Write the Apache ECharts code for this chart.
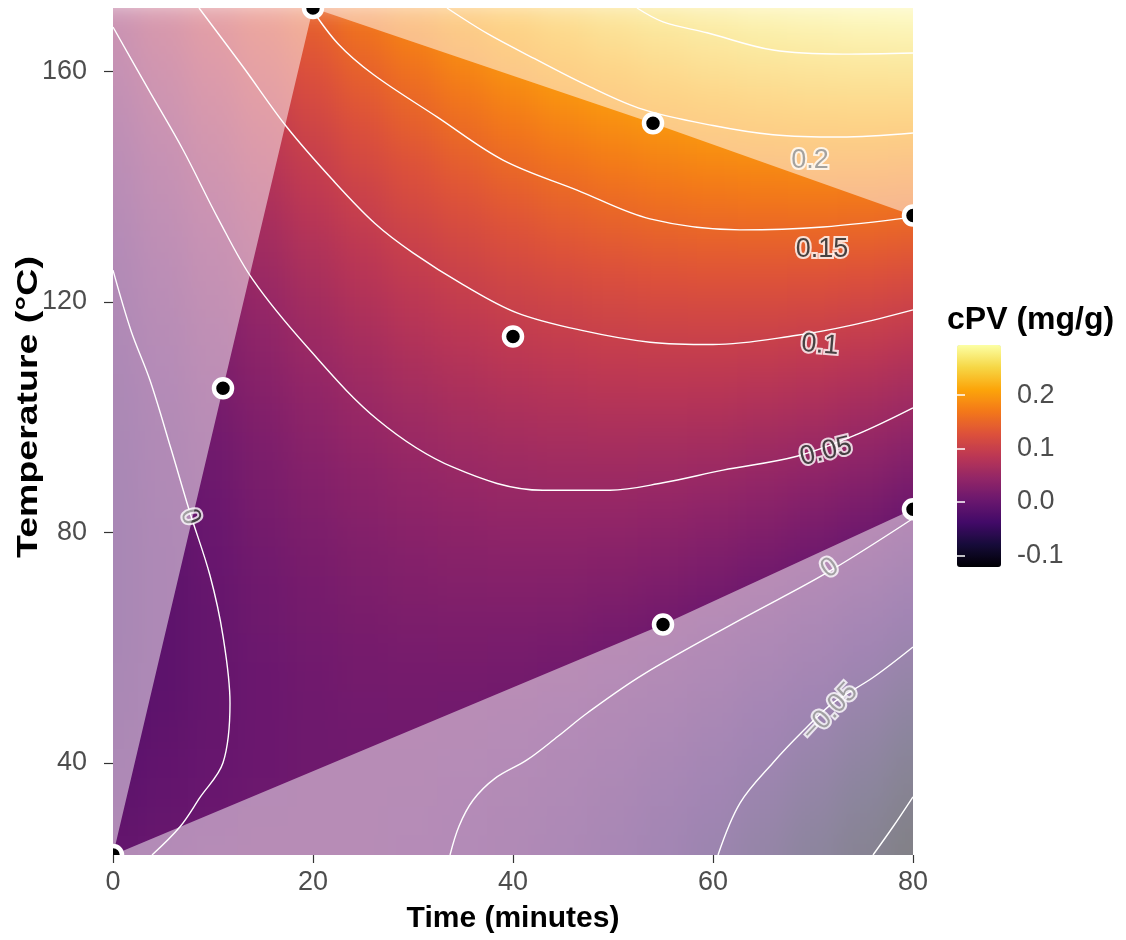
<!DOCTYPE html>
<html>
<head>
<meta charset="utf-8">
<script src="https://cdn.jsdelivr.net/npm/echarts@6/dist/echarts.min.js"></script>
<style>
html,body{margin:0;padding:0;background:#ffffff;}
#chart{width:1126px;height:940px;position:relative;}
#chart canvas[data-zr-dom-id="zr_0"]{filter:blur(14px);}
</style>
</head>
<body>
<div id="chart"></div>
<script>
// ---------- DATA ----------
// grid of estimated cPV values (mg/g); rows = temperature, columns = time
const timeGrid = [0, 5, 10, 15, 20, 25, 30, 35, 40, 45, 50, 55, 60, 65, 70, 75, 80];
const tempGrid = [25, 30, 35, 40, 45, 50, 55, 60, 65, 70, 75, 80, 85, 90, 95, 100, 105, 110, 115, 120, 125, 130, 135, 140, 145, 150, 155, 160, 165, 170];
const cpvGrid = [
  [-0.004, 0.001, 0.005, 0.008, 0.008, 0.007, 0.004, 0.000, -0.006, -0.014, -0.023, -0.034, -0.047, -0.061, -0.077, -0.094, -0.114],
  [-0.008, -0.002, 0.003, 0.006, 0.007, 0.007, 0.005, 0.001, -0.004, -0.011, -0.019, -0.030, -0.042, -0.055, -0.070, -0.087, -0.106],
  [-0.011, -0.004, 0.001, 0.005, 0.007, 0.007, 0.006, 0.003, -0.001, -0.008, -0.015, -0.025, -0.036, -0.049, -0.063, -0.079, -0.097],
  [-0.014, -0.006, 0.000, 0.004, 0.007, 0.008, 0.008, 0.005, 0.002, -0.004, -0.011, -0.020, -0.030, -0.042, -0.056, -0.071, -0.088],
  [-0.017, -0.008, -0.001, 0.004, 0.007, 0.009, 0.009, 0.008, 0.005, 0.000, -0.006, -0.014, -0.024, -0.035, -0.048, -0.063, -0.079],
  [-0.019, -0.010, -0.002, 0.004, 0.008, 0.011, 0.012, 0.011, 0.009, 0.005, -0.001, -0.008, -0.017, -0.028, -0.040, -0.054, -0.069],
  [-0.020, -0.011, -0.002, 0.004, 0.009, 0.013, 0.014, 0.014, 0.013, 0.010, 0.005, -0.002, -0.010, -0.020, -0.031, -0.045, -0.059],
  [-0.022, -0.011, -0.002, 0.005, 0.011, 0.015, 0.017, 0.018, 0.017, 0.015, 0.011, 0.005, -0.003, -0.012, -0.022, -0.035, -0.049],
  [-0.023, -0.011, -0.002, 0.007, 0.013, 0.018, 0.021, 0.022, 0.022, 0.021, 0.017, 0.012, 0.005, -0.003, -0.013, -0.025, -0.038],
  [-0.023, -0.011, -0.001, 0.008, 0.015, 0.021, 0.025, 0.027, 0.028, 0.027, 0.024, 0.020, 0.014, 0.006, -0.003, -0.014, -0.027],
  [-0.023, -0.011, 0.001, 0.010, 0.018, 0.024, 0.029, 0.032, 0.033, 0.033, 0.031, 0.028, 0.022, 0.015, 0.007, -0.003, -0.015],
  [-0.023, -0.010, 0.002, 0.013, 0.021, 0.028, 0.034, 0.037, 0.040, 0.040, 0.039, 0.036, 0.031, 0.025, 0.017, 0.008, -0.003],
  [-0.023, -0.008, 0.004, 0.016, 0.025, 0.033, 0.039, 0.043, 0.046, 0.047, 0.047, 0.045, 0.041, 0.035, 0.028, 0.020, 0.009],
  [-0.022, -0.006, 0.007, 0.019, 0.029, 0.037, 0.044, 0.049, 0.053, 0.055, 0.055, 0.054, 0.051, 0.046, 0.040, 0.032, 0.022],
  [-0.020, -0.004, 0.010, 0.022, 0.033, 0.043, 0.050, 0.056, 0.060, 0.063, 0.064, 0.063, 0.061, 0.057, 0.051, 0.044, 0.035],
  [-0.018, -0.002, 0.013, 0.026, 0.038, 0.048, 0.056, 0.063, 0.068, 0.071, 0.073, 0.073, 0.072, 0.068, 0.064, 0.057, 0.049],
  [-0.016, 0.001, 0.017, 0.031, 0.043, 0.054, 0.063, 0.070, 0.076, 0.080, 0.083, 0.084, 0.083, 0.080, 0.076, 0.070, 0.063],
  [-0.013, 0.005, 0.021, 0.036, 0.049, 0.060, 0.070, 0.078, 0.085, 0.090, 0.093, 0.094, 0.094, 0.092, 0.089, 0.084, 0.077],
  [-0.010, 0.008, 0.025, 0.041, 0.055, 0.067, 0.078, 0.086, 0.094, 0.099, 0.103, 0.105, 0.106, 0.105, 0.102, 0.098, 0.092],
  [-0.007, 0.013, 0.030, 0.047, 0.061, 0.074, 0.085, 0.095, 0.103, 0.109, 0.114, 0.117, 0.118, 0.118, 0.116, 0.112, 0.107],
  [-0.003, 0.017, 0.036, 0.053, 0.068, 0.082, 0.094, 0.104, 0.113, 0.120, 0.125, 0.129, 0.131, 0.131, 0.130, 0.127, 0.123],
  [0.001, 0.022, 0.041, 0.059, 0.075, 0.089, 0.102, 0.113, 0.123, 0.131, 0.137, 0.141, 0.144, 0.145, 0.145, 0.143, 0.139],
  [0.006, 0.027, 0.047, 0.066, 0.083, 0.098, 0.111, 0.123, 0.133, 0.142, 0.149, 0.154, 0.157, 0.159, 0.160, 0.158, 0.155],
  [0.011, 0.033, 0.054, 0.073, 0.091, 0.106, 0.121, 0.133, 0.144, 0.153, 0.161, 0.167, 0.171, 0.174, 0.175, 0.174, 0.172],
  [0.016, 0.039, 0.061, 0.081, 0.099, 0.116, 0.130, 0.144, 0.155, 0.165, 0.174, 0.180, 0.186, 0.189, 0.191, 0.191, 0.189],
  [0.022, 0.046, 0.068, 0.089, 0.108, 0.125, 0.141, 0.155, 0.167, 0.178, 0.187, 0.194, 0.200, 0.204, 0.207, 0.208, 0.207],
  [0.028, 0.053, 0.076, 0.097, 0.117, 0.135, 0.151, 0.166, 0.179, 0.191, 0.200, 0.209, 0.215, 0.220, 0.223, 0.225, 0.225],
  [0.035, 0.060, 0.084, 0.106, 0.126, 0.145, 0.162, 0.178, 0.192, 0.204, 0.214, 0.223, 0.231, 0.236, 0.240, 0.242, 0.243],
  [0.042, 0.068, 0.092, 0.115, 0.136, 0.156, 0.174, 0.190, 0.205, 0.218, 0.229, 0.238, 0.246, 0.253, 0.257, 0.261, 0.262],
  [0.049, 0.076, 0.101, 0.125, 0.147, 0.167, 0.186, 0.203, 0.218, 0.232, 0.244, 0.254, 0.263, 0.270, 0.275, 0.279, 0.281]
];

// experimental design points (time, temperature)
const designTime = [0, 20, 54, 80, 40, 11, 80, 55];
const designTemp = [24, 171, 151, 135, 114, 105, 84, 64];

// contour lines: [time, temperature]
const contour_0_25 = [[52.4,171],[55,168.6],[59.4,166.7],[66,163.7],[73,163],[80,163.2]];
const contour_0_20 = [[33.4,171],[37.5,166.5],[42.4,162],[47.5,157.5],[53,153.4],[60,150.6],[66,149],[72.7,148.6],[80,149.3]];
const contour_0_15 = [[19.8,171],[22.5,164.8],[26,159.5],[32.4,152.1],[39,144.6],[46.4,139.4],[53.7,134.4],[62.7,132.5],[71,133],[80,134.7]];
const contour_0_10 = [[8.6,171],[13,160.8],[17.4,150.3],[22,141.1],[26.2,133.6],[30,128.5],[35,123],[40.4,118.1],[47,115],[53.7,113],[60,112.6],[68.4,114.2],[74,116],[80,118.6]];
const contour_0_05 = [[0,167.7],[3.5,157],[7,146.4],[10.5,134.5],[14,123.8],[19.4,112.2],[26.5,99.5],[34,91.3],[43,87.3],[49.7,87.3],[55,88.6],[61,90.8],[68.4,93.2],[74.4,97],[80,101.6]];
const contour_0_left = [[0,125.5],[1.8,115],[3.7,106.4],[5.8,94.5],[7.7,83.4],[9.7,72.5],[11,62],[11.7,50.4],[11,40],[8.7,34],[6.7,28.9],[3.9,24]];
const contour_0_right = [[33.7,24],[34.6,29],[36,33.5],[38.2,37.3],[41.4,40.5],[44.5,44.6],[47.4,48.6],[53,55.3],[62.7,64.8],[71.4,73],[80,82.4]];
const contour_m0_05 = [[60.5,24],[62.7,33],[66,40],[69,45.5],[72,50.4],[76,54.8],[80,60.1]];
const contour_m0_10 = [[76,24],[78,28.9],[80,34.1]];

// contour labels
const labelText  = ['0.2', '0.15', '0.1', '0.05', '0', '\u22120.05', '0'];
const labelTime  = [69.7, 70.9, 70.7, 71.3, 71.7, 71.7, 7.7];
const labelTemp  = [144.6, 129, 112.5, 94.0, 73.8, 48.8, 82.7];
const labelAngle = [0, 0, -5, 14, 35, 47, -73];

// axis / legend ticks
const timeTicks = [0, 20, 40, 60, 80];
const tempTicks = [40, 80, 120, 160];
const legendTicks = [-0.1, 0, 0.1, 0.2];
const timeRange = [0, 80];
const tempRange = [24, 171];
const cpvRange = [-0.122, 0.294];

const inferno = ['#000004','#160b39','#420a68','#6a176e','#932667','#bc3754','#dd513a','#f37819','#fca50a','#f6d746','#fcffa4'];

// ---------- BUILD ----------
const FONT = "'Liberation Sans', Arial, sans-serif";
const PLOT = {left: 113, top: 8, width: 800, height: 847};
const heatData = [];
for (let i = 0; i < tempGrid.length; i++) {
  for (let j = 0; j < timeGrid.length; j++) {
    heatData.push([timeGrid[j], tempGrid[i], cpvGrid[i][j]]);
  }
}
const halfT = (timeGrid[1] - timeGrid[0]) / 2;
const halfY = (tempGrid[1] - tempGrid[0]) / 2;
const EDGE = 70; // edge cells are continued past the panel (hidden by the frame)

const P = i => [designTime[i], designTemp[i]];
const washPieces = [
  [[timeRange[0], tempRange[1]], P(1), P(5), P(0)],
  [[timeRange[1], tempRange[1]], P(3), P(2), P(1)],
  [[timeRange[1], tempRange[0]], P(0), P(7), P(6)]
];

const contours = [contour_0_25, contour_0_20, contour_0_15, contour_0_10, contour_0_05,
                  contour_0_left, contour_0_right, contour_m0_05, contour_m0_10];

const series = [];
series.push({
  type: 'custom', name: 'surface', data: heatData, encode: {x: 0, y: 1}, clip: false, z: 1, zlevel: 0,
  silent: true, animation: false,
  renderItem: function (params, api) {
    const t = api.value(0), T = api.value(1);
    const p0 = api.coord([t - halfT, T + halfY]);
    const p1 = api.coord([t + halfT, T - halfY]);
    let x0 = p0[0], y0 = p0[1], x1 = p1[0], y1 = p1[1];
    if (t === timeGrid[0]) x0 -= EDGE;
    if (t === timeGrid[timeGrid.length - 1]) x1 += EDGE;
    if (T === tempGrid[tempGrid.length - 1]) y0 -= EDGE;
    if (T === tempGrid[0]) y1 += EDGE;
    return {type: 'rect', shape: {x: x0 - 0.5, y: y0 - 0.5, width: x1 - x0 + 1, height: y1 - y0 + 1},
            style: {fill: api.visual('color')}};
  }
});
contours.forEach(function (c) {
  series.push({
    type: 'line', data: c, smooth: 0.35, symbol: 'none', showSymbol: false, silent: true, z: 2, zlevel: 1,
    lineStyle: {color: '#ffffff', width: 1.4}, animation: false, clip: true
  });
});
series.push({
  type: 'scatter', z: 3, zlevel: 1, silent: true, animation: false, symbolSize: 1,
  itemStyle: {color: 'rgba(0,0,0,0)'},
  data: labelTime.map(function (t, i) {
    return {value: [t, labelTemp[i]],
            label: {show: true, position: 'inside', formatter: labelText[i], rotate: labelAngle[i],
                    fontSize: 27, fontFamily: FONT, color: '#1a1a1a',
                    textBorderColor: '#ffffff', textBorderWidth: 4}};
  })
});
series.push({
  type: 'custom', name: 'wash', z: 4, zlevel: 1, silent: true, animation: false, clip: true,
  data: washPieces.map(function (p, i) { return [p[0][0], p[0][1], i]; }),
  encode: {x: 0, y: 1},
  renderItem: function (params, api) {
    const piece = washPieces[params.dataIndex];
    const pts = piece.map(function (q) { return api.coord(q); });
    return {type: 'polygon', shape: {points: pts}, style: {fill: 'rgba(255,255,255,0.5)', stroke: null}};
  }
});
series.push({
  type: 'custom', name: 'design', z: 5, zlevel: 1, silent: true, animation: false, clip: true,
  data: designTime.map(function (t, i) { return [t, designTemp[i]]; }),
  encode: {x: 0, y: 1},
  renderItem: function (params, api) {
    const p = api.coord([api.value(0), api.value(1)]);
    return {type: 'circle', shape: {cx: p[0], cy: p[1], r: 9},
            style: {fill: '#000000', stroke: '#ffffff', lineWidth: 4.5}};
  }
});

// white frame around the panel (upper layer) hides the continued edge cells
const frame = [
  {type: 'rect', shape: {x: 0, y: 0, width: PLOT.left, height: 940}},
  {type: 'rect', shape: {x: PLOT.left + PLOT.width, y: 0, width: 1126 - PLOT.left - PLOT.width, height: 940}},
  {type: 'rect', shape: {x: PLOT.left, y: 0, width: PLOT.width, height: PLOT.top}},
  {type: 'rect', shape: {x: PLOT.left, y: PLOT.top + PLOT.height, width: PLOT.width, height: 940 - PLOT.top - PLOT.height}}
].map(function (e) { e.style = {fill: '#ffffff'}; e.zlevel = 1; e.z = 1; e.silent = true; return e; });

const option = {
  animation: false,
  backgroundColor: '#ffffff',
  title: {text: 'cPV (mg/g)', left: 947, top: 304, padding: 0, zlevel: 1, z: 20,
          textStyle: {fontFamily: FONT, fontSize: 32, fontWeight: 'bold', color: '#000000'}},
  graphic: {elements: frame.concat([
    {type: 'text', zlevel: 1, z: 20, x: 29, y: 407, rotation: Math.PI / 2, scaleX: 1.25, silent: true,
     style: {text: 'Temperature (\u00b0C)', font: "bold 30px 'Liberation Sans', Arial, sans-serif", fill: '#000000',
             align: 'center', verticalAlign: 'middle', textAlign: 'center', textVerticalAlign: 'middle'}}
  ])},
  grid: [
    {left: PLOT.left, top: PLOT.top, width: PLOT.width, height: PLOT.height},
    {left: 957, top: 345, width: 44, height: 222}
  ],
  xAxis: [
    {type: 'value', gridIndex: 0, min: timeRange[0], max: timeRange[1], interval: 20, zlevel: 1, z: 20,
     axisLine: {show: false}, splitLine: {show: false},
     axisTick: {show: true, length: 8, lineStyle: {color: '#333333', width: 1.2}, customValues: timeTicks},
     axisLabel: {color: '#4d4d4d', fontSize: 27, fontFamily: FONT, margin: 14, customValues: timeTicks},
     name: 'Time (minutes)', nameLocation: 'middle', nameGap: 49,
     nameTextStyle: {fontFamily: FONT, fontSize: 30, fontWeight: 'bold', color: '#000000'}},
    {type: 'value', gridIndex: 1, min: 0, max: 1, show: false}
  ],
  yAxis: [
    {type: 'value', gridIndex: 0, min: tempRange[0], max: tempRange[1], zlevel: 1, z: 20,
     axisLine: {show: false}, splitLine: {show: false},
     axisTick: {show: true, length: 9, lineStyle: {color: '#333333', width: 1.2}, customValues: tempTicks},
     axisLabel: {color: '#4d4d4d', fontSize: 27, fontFamily: FONT, margin: 26, customValues: tempTicks}},
    {type: 'value', gridIndex: 1, min: cpvRange[0], max: cpvRange[1], position: 'right', zlevel: 1, z: 30,
     axisLine: {show: false}, splitLine: {show: false},
     axisTick: {show: true, inside: true, length: 8, lineStyle: {color: '#ffffff', width: 1.5}, customValues: legendTicks},
     axisLabel: {color: '#4d4d4d', fontSize: 27, fontFamily: FONT, margin: 16, customValues: legendTicks,
                 formatter: function (v) { return Number(v).toFixed(1); }}},
    {type: 'value', gridIndex: 1, min: cpvRange[0], max: cpvRange[1], position: 'left', zlevel: 1, z: 30,
     axisLine: {show: false}, splitLine: {show: false},
     axisTick: {show: true, inside: true, length: 8, lineStyle: {color: '#ffffff', width: 1.5}, customValues: legendTicks},
     axisLabel: {show: false}}
  ],
  visualMap: {
    type: 'continuous', min: cpvRange[0], max: cpvRange[1], dimension: 2, seriesIndex: 0,
    left: 957, top: 345, itemWidth: 44, itemHeight: 222, padding: 0, calculable: false,
    inRange: {color: inferno}, hoverLink: false, zlevel: 1, z: 25
  },
  series: series
};

const chart = echarts.init(document.getElementById('chart'), null, {renderer: 'canvas'});
chart.setOption(option);
</script>
</body>
</html>
